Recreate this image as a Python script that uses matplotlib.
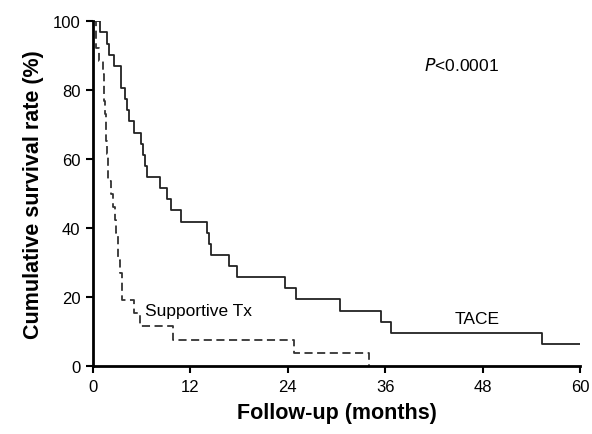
import matplotlib
matplotlib.use("Agg")
import matplotlib.pyplot as plt

plt.rcParams["font.family"] = ["Liberation Sans", "DejaVu Sans"]

# Kaplan-Meier steps (months, % surviving)
tace_months = [0, 0.86, 1.76, 1.97, 2.6, 3.4, 4.0, 4.2, 4.4, 5.1, 5.87, 6.2, 6.4,
               6.6, 8.25, 9.15, 9.6, 10.9, 14.0, 14.3, 14.5, 16.8, 17.7, 23.6,
               25.0, 30.4, 35.5, 36.7, 55.3, 60]
tace_surv = [100, 96.8, 93.5, 90.3, 87.1, 80.6, 77.4, 74.2, 71.0, 67.7, 64.5, 61.3,
             58.1, 54.8, 51.6, 48.4, 45.2, 41.9, 38.7, 35.5, 32.3, 29.0, 25.8, 22.6,
             19.4, 16.1, 12.9, 9.7, 6.5, 6.5]

supp_months = [0, 0.35, 0.8, 1.2, 1.3, 1.4, 1.5, 1.55, 1.6, 1.7, 1.8, 1.9, 2.2,
               2.45, 2.7, 2.9, 3.1, 3.35, 3.6, 5.1, 5.8, 9.8, 24.7, 34.0]
supp_surv = [100, 92.3, 88.5, 84.6, 80.8, 76.9, 73.1, 69.2, 65.4, 61.5, 57.7, 53.8,
             50.0, 46.2, 42.3, 38.5, 30.8, 26.9, 19.2, 15.4, 11.5, 7.7, 3.8, 0]

x_ticks = [0, 12, 24, 36, 48, 60]
y_ticks = [0, 20, 40, 60, 80, 100]

fig = plt.figure(figsize=(5.92, 4.35), dpi=100)
ax = fig.add_axes([0.157, 0.156, 0.823, 0.793])

ax.step(tace_months, tace_surv, where="post", color="#222222", linewidth=1.3)
ax.step(supp_months, supp_surv, where="post", color="#333333", linewidth=1.3,
        linestyle=(0, (4.5, 2.5)))

ax.set_xlim(0, 60)
ax.set_ylim(0, 100)
ax.set_xticks(x_ticks)
ax.set_yticks(y_ticks)
ax.tick_params(direction="out", length=5, width=1.5, labelsize=12, pad=4)

for side in ("top", "right"):
    ax.spines[side].set_visible(False)
for side in ("left", "bottom"):
    ax.spines[side].set_linewidth(2)

ax.set_xlabel("Follow-up (months)", fontsize=15.5, fontweight="bold", labelpad=6)
ax.set_ylabel("Cumulative survival rate (%)", fontsize=15.5, fontweight="bold", labelpad=6)

ax.text(44.5, 13.7, "TACE", fontsize=12.5, ha="left", va="center")
ax.text(6.4, 16, "Supportive Tx", fontsize=12.5, ha="left", va="center")
ax.text(45.4, 87.5, r"$\it{P}$<0.0001", fontsize=12.5, ha="center", va="center")

fig.savefig("out.png", dpi=100)
